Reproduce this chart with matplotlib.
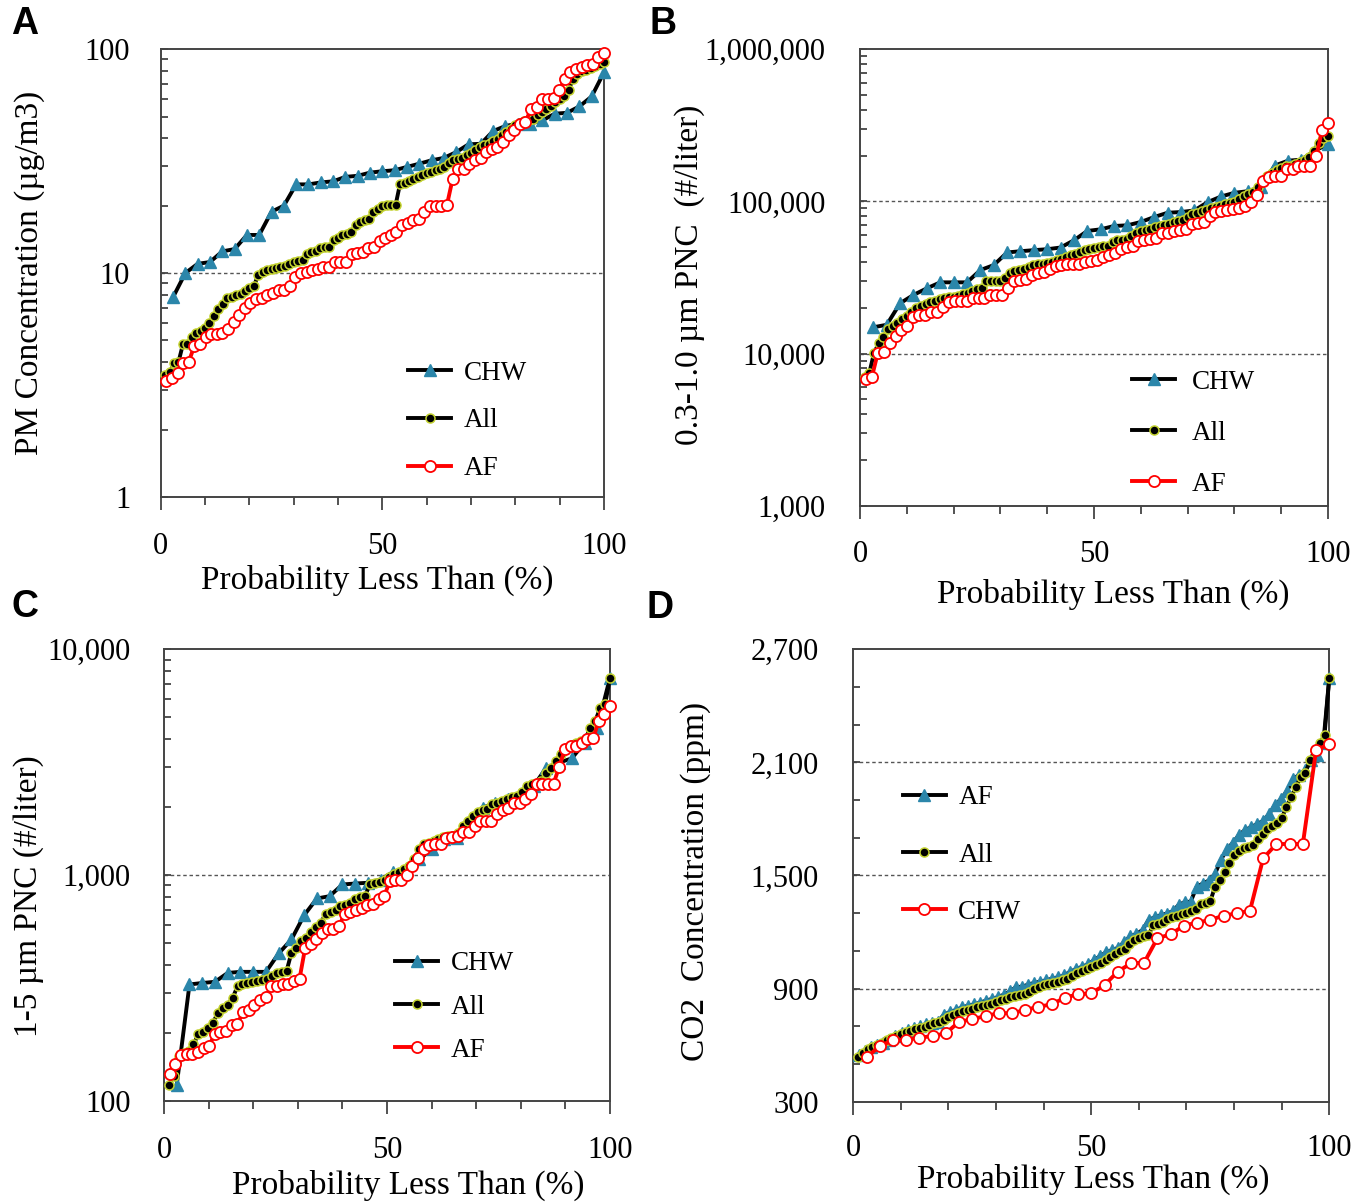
import numpy as np
import matplotlib
matplotlib.use("Agg")
import matplotlib.pyplot as plt
from matplotlib.ticker import FixedLocator, MultipleLocator, FuncFormatter, NullFormatter

plt.rcParams['font.family'] = ['Liberation Serif', 'DejaVu Serif']

# ---- panel A : PM concentration (ug/m3)
pm_chw = [7.8, 10.0, 11.0, 11.2, 12.5, 12.8, 14.8, 14.8, 18.8, 20.0, 24.9, 24.9, 25.4, 25.7, 26.9, 27.2,
          28.1, 28.5, 28.8, 29.8, 30.8, 31.9, 32.7, 34.7, 37.6, 37.8, 43.1, 45.4, 46.5, 46.5, 48.1, 51.5,
          52.0, 55.5, 61.5, 78.9]
pm_all = [3.5, 3.6, 3.95, 4.0, 4.8, 4.8, 5.2, 5.4, 5.5, 5.7,
          6.0, 6.4, 6.9, 7.3, 7.7, 7.8, 8.0, 8.1, 8.35, 8.55,
          8.75, 9.8, 10.1, 10.3, 10.4, 10.55, 10.7, 10.8, 11.0, 11.2,
          11.3, 11.4, 12.2, 12.4, 12.6, 12.9, 13.1, 13.1, 14.0, 14.4,
          14.8, 15.0, 15.3, 16.4, 16.9, 17.3, 17.5, 18.8, 19.4, 20.0,
          20.1, 20.1, 20.2, 25.1, 25.3, 25.8, 26.2, 26.9, 27.5, 28.0,
          28.4, 28.8, 29.2, 29.8, 31.0, 31.9, 32.2, 32.8, 33.6, 34.4,
          35.6, 36.5, 37.2, 37.8, 38.8, 39.8, 41.3, 42.8, 44.2, 45.7,
          46.8, 47.6, 48.1, 49.0, 50.6, 52.4, 54.2, 56.0, 58.0, 60.0,
          61.6, 65.4, 73.8, 77.5, 79.6, 81.0, 82.5, 84.0, 86.0, 88.0]
pm_af = [3.28, 3.39, 3.57, 3.96, 4.02, 4.73, 4.83, 5.2, 5.35, 5.35,
         5.42, 5.61, 6.07, 6.5, 6.96, 7.32, 7.63, 7.71, 7.98, 8.12,
         8.4, 8.4, 8.78, 9.57, 9.97, 10.1, 10.3, 10.4, 10.6, 10.7,
         11.2, 11.2, 11.2, 12.2, 12.3, 12.45, 13.0, 13.1, 13.9, 14.3,
         14.8, 15.2, 16.4, 16.8, 17.2, 17.5, 18.8, 19.9, 20.0, 20.0,
         20.1, 26.2, 29.3, 29.3, 30.8, 31.9, 32.8, 34.7, 35.9, 36.5,
         38.5, 41.2, 43.4, 46.5, 47.3, 54.2, 55.1, 60.0, 60.0, 60.7,
         65.4, 73.8, 78.9, 81.7, 83.1, 85.4, 86.0, 92.1, 96.0]

# ---- panel B : 0.3-1.0 um PNC (#/liter)
pnc03_chw = [14900, 15470, 21430, 24300, 26860, 29400, 29400, 29400, 35400, 38170,
             46200, 47100, 47850, 48550, 49800, 55600, 64000, 65600, 69000, 69700,
             73300, 79000, 84300, 85200, 87300, 99000, 107800, 114000, 116800, 124100,
             171900, 185300, 188200, 215400, 238300]
pnc03_all = [7000, 7500, 10100, 11700, 12800, 14500, 15300, 15900, 17000, 17800,
             18900, 19800, 20400, 21100, 21900, 22300, 22900, 23200, 23400, 23700,
             24000, 24500, 25000, 25800, 26500, 26900, 29900, 29900, 30000, 30150,
             31400, 33700, 34900, 35400, 36100, 37100, 38200, 38700, 39100, 39500,
             39900, 41000, 42000, 43000, 44200, 45200, 46400, 47800, 48600, 49300,
             50100, 50600, 50800, 54000, 55900, 56200, 56700, 59100, 61700, 63900,
             65000, 66000, 67900, 69000, 70400, 71400, 73000, 74300, 75100, 79000,
             82600, 84300, 86000, 88500, 90500, 91800, 93600, 95700, 97000, 99000,
             104000, 108500, 112200, 115700, 125000, 137000, 146000, 155000, 161000, 166000,
             170000, 172000, 175000, 181000, 187000, 195000, 215000, 243000, 263000, 270000]
pnc03_af = [6830, 7000, 10100, 10200, 11740, 13110, 14350, 15240, 17360, 17900,
            17980, 18630, 18910, 20390, 21980, 22320, 22320, 22320, 23110, 23340,
            23340, 24300, 24300, 24300, 26860, 30150, 30460, 30900, 32850, 34000,
            34200, 35760, 37790, 38170, 38550, 38730, 38730, 39720, 40500, 41160,
            43260, 44800, 45500, 48550, 50300, 50800, 54800, 55600, 56430, 57880,
            62400, 62400, 64000, 64600, 65600, 71450, 72540, 73300, 80200, 85200,
            86470, 87300, 89600, 90400, 92750, 99000, 111100, 137100, 145700, 146400,
            147900, 163500, 163500, 171900, 171900, 171900, 197800, 293900, 330000]

# ---- panel C : 1-5 um PNC (#/liter)
pnc15_chw = [118, 328, 333, 337, 369, 373, 373, 373, 450, 519,
             665, 788, 807, 909, 918, 925, 956, 1034, 1059, 1173,
             1299, 1439, 1464, 1677, 1988, 2092, 2164, 2278, 2480, 2989,
             3147, 3289, 3858, 4498, 7487]
pnc15_all = [118, 129, 158, 163, 166, 178, 197, 202, 211, 222,
             246, 258, 267, 286, 322, 328, 333, 337, 339, 345,
             347, 357, 369, 374, 376, 453, 476, 510, 528, 561,
             590, 615, 676, 686, 704, 729, 741, 754, 780, 799,
             807, 909, 925, 934, 950, 983, 1007, 1031, 1059, 1096,
             1173, 1299, 1367, 1391, 1415, 1439, 1474, 1489, 1489, 1540,
             1649, 1735, 1826, 1902, 1941, 1968, 2057, 2092, 2128, 2180,
             2217, 2239, 2333, 2480, 2523, 2566, 2610, 2842, 2989, 3200,
             3425, 3606, 3731, 3834, 3926, 4020, 4498, 4813, 5514, 5705, 7487]
pnc15_af = [132, 146, 160, 162, 162, 165, 172, 176, 198, 202,
            204, 218, 220, 247, 254, 266, 281, 288, 322, 324,
            328, 330, 339, 347, 476, 498, 522, 555, 578, 578,
            594, 676, 686, 704, 717, 737, 747, 780, 807, 941,
            947, 950, 1000, 1096, 1193, 1299, 1358, 1377, 1377, 1464,
            1474, 1489, 1550, 1556, 1649, 1735, 1735, 1735, 1857, 1941,
            1988, 2092, 2092, 2180, 2278, 2523, 2540, 2540, 2540, 3020,
            3606, 3731, 3731, 3834, 4020, 4034, 4813, 5152, 5610]

# ---- panel D : CO2 (ppm)
co2_af = [548, 571, 592, 602, 613, 627, 650, 663, 680, 693,
          702, 710, 716, 724, 760, 776, 786, 800, 809, 816,
          825, 836, 845, 855, 868, 885, 908, 910, 921, 930,
          937, 944, 953, 960, 970, 990, 1004, 1016, 1030, 1052,
          1073, 1094, 1105, 1117, 1149, 1179, 1190, 1211, 1264, 1278,
          1289, 1298, 1310, 1344, 1359, 1361, 1441, 1457, 1473, 1506,
          1582, 1639, 1674, 1715, 1741, 1756, 1773, 1789, 1826, 1874,
          1906, 1950, 2010, 2035, 2060, 2113, 2139, 2201, 2550]
co2_all = [539, 557, 578, 592, 602, 613, 627, 638, 650, 661,
           668, 677, 684, 689, 698, 707, 716, 724, 735, 748,
           760, 769, 779, 788, 793, 800, 806, 811, 818, 827,
           838, 847, 854, 861, 864, 871, 882, 896, 908, 917,
           923, 928, 937, 944, 953, 967, 983, 993, 1004, 1013,
           1023, 1038, 1050, 1066, 1083, 1098, 1112, 1137, 1160, 1168,
           1177, 1183, 1236, 1243, 1255, 1267, 1278, 1285, 1296, 1303,
           1312, 1322, 1349, 1356, 1363, 1441, 1476, 1517, 1568, 1609,
           1632, 1644, 1653, 1662, 1694, 1720, 1745, 1763, 1780, 1803,
           1865, 1915, 1971, 2021, 2046, 2113, 2166, 2201, 2245, 2550]
co2_chw = [535, 595, 627, 628, 640, 648, 663, 724, 737, 755,
           769, 770, 786, 804, 816, 852, 870, 875, 919, 990,
           1034, 1038, 1167, 1188, 1234, 1250, 1264, 1287, 1299, 1313,
           1591, 1667, 1667, 1667, 2166, 2196]

tri_color = '#2b86aa'
dot_edge = '#c3d22f'
spine_color = '#444444'


def pct(vals):
    # probability less than: rank / n
    n = len(vals)
    return np.arange(1, n + 1) / n * 100


def draw_tri(ax, vals, label):
    ax.plot(pct(vals), vals, color='black', lw=2.8, marker='^', ms=9,
            mfc=tri_color, mec=tri_color, label=label, clip_on=False, zorder=3)


def draw_dot(ax, vals, label):
    ax.plot(pct(vals), vals, color='black', lw=2.8, marker='o', ms=6.5,
            mfc='black', mec=dot_edge, mew=1.1, label=label, clip_on=False, zorder=4)


def draw_circ(ax, vals, label):
    ax.plot(pct(vals), vals, color='red', lw=2.8, marker='o', ms=8,
            mfc='white', mec='red', mew=1.3, label=label, clip_on=False, zorder=5)


def style_axes(ax, ypad, xpad=16):
    ax.set_xlim(0, 100)
    ax.xaxis.set_major_locator(FixedLocator([0, 50, 100]))
    ax.xaxis.set_minor_locator(MultipleLocator(10))
    ax.tick_params(axis='x', which='major', direction='out', length=9, width=1.3,
                   color=spine_color, labelsize=22, pad=xpad)
    ax.tick_params(axis='x', which='minor', direction='out', length=6, width=1.3,
                   color=spine_color)
    ax.tick_params(axis='y', which='both', direction='in', length=5, width=1.3,
                   color=spine_color, labelsize=22, pad=ypad)
    for s in ax.spines.values():
        s.set_color(spine_color)
        s.set_linewidth(1.4)


def grid_lines(ax, levels):
    for lv in levels:
        ax.axhline(lv, color='#555555', lw=1.0, ls=(0, (2.5, 2)), zorder=1)


def add_legend(ax, x, y, spacing, textpad=0.45):
    ax.legend(loc='center left', bbox_to_anchor=(x, y), frameon=False, fontsize=19.5,
              borderpad=0, borderaxespad=0, handlelength=1.6, handletextpad=textpad,
              labelspacing=spacing)


fmt_comma = FuncFormatter(lambda v, p: f"{v:,.0f}")
xlab = 'Probability Less Than (%)'

fig = plt.figure(figsize=(13.69, 12.03), dpi=100)

axA = fig.add_axes([0.1174, 0.5869, 0.3238, 0.3722])
axB = fig.add_axes([0.6282, 0.5796, 0.3419, 0.3794])
axC = fig.add_axes([0.1198, 0.0848, 0.3258, 0.3755])
axD = fig.add_axes([0.6233, 0.0842, 0.3477, 0.3761])

# A
draw_tri(axA, pm_chw, 'CHW')
draw_dot(axA, pm_all, 'All')
draw_circ(axA, pm_af, 'AF')
axA.set_yscale('log')
axA.set_ylim(1, 100)
grid_lines(axA, [10])
style_axes(axA, 22)
axA.yaxis.set_major_formatter(fmt_comma)
axA.yaxis.set_minor_formatter(NullFormatter())
axA.set_ylabel('PM Concentration (µg/m3)', fontsize=24)
axA.yaxis.set_label_coords(-0.262, 0.5)
axA.set_xlabel(xlab, fontsize=24)
axA.xaxis.set_label_coords(0.488, -0.152)
add_legend(axA, 0.558, 0.170, 0.84)

# B
draw_tri(axB, pnc03_chw, 'CHW')
draw_dot(axB, pnc03_all, 'All')
draw_circ(axB, pnc03_af, 'AF')
axB.set_yscale('log')
axB.set_ylim(1000, 1000000)
grid_lines(axB, [10000, 100000])
style_axes(axB, 25)
axB.yaxis.set_major_formatter(fmt_comma)
axB.yaxis.set_minor_formatter(NullFormatter())
axB.set_ylabel('0.3-1.0 µm PNC  (#/liter)', fontsize=24)
axB.yaxis.set_label_coords(-0.331, 0.505)
axB.set_xlabel(xlab, fontsize=24)
axB.xaxis.set_label_coords(0.541, -0.160)
add_legend(axB, 0.581, 0.159, 0.96, textpad=0.6)

# C
draw_tri(axC, pnc15_chw, 'CHW')
draw_dot(axC, pnc15_all, 'All')
draw_circ(axC, pnc15_af, 'AF')
axC.set_yscale('log')
axC.set_ylim(100, 10000)
grid_lines(axC, [1000])
style_axes(axC, 24)
axC.yaxis.set_major_formatter(fmt_comma)
axC.yaxis.set_minor_formatter(NullFormatter())
axC.set_ylabel('1-5 µm PNC (#/liter)', fontsize=24)
axC.yaxis.set_label_coords(-0.268, 0.454)
axC.set_xlabel(xlab, fontsize=24)
axC.xaxis.set_label_coords(0.547, -0.152)
add_legend(axC, 0.518, 0.208, 0.68)

# D
draw_tri(axD, co2_af, 'AF')
draw_dot(axD, co2_all, 'All')
draw_circ(axD, co2_chw, 'CHW')
axD.set_ylim(300, 2700)
axD.yaxis.set_major_locator(FixedLocator([300, 900, 1500, 2100, 2700]))
axD.yaxis.set_minor_locator(FixedLocator(np.arange(300, 2701, 200)))
grid_lines(axD, [900, 1500, 2100])
style_axes(axD, 25, xpad=14)
axD.yaxis.set_major_formatter(fmt_comma)
axD.set_ylabel('CO2  Concentration (ppm)', fontsize=24)
axD.yaxis.set_label_coords(-0.299, 0.486)
axD.set_xlabel(xlab, fontsize=24)
axD.xaxis.set_label_coords(0.504, -0.138)
add_legend(axD, 0.104, 0.545, 1.19)

# panel letters
for letter, x, y in [('A', 25, 24), ('B', 663, 24), ('C', 25, 607), ('D', 660, 608)]:
    fig.text(x / 1369, 1 - y / 1203, letter, fontsize=27, fontweight='bold',
             family=['Liberation Sans', 'DejaVu Sans'], ha='center', va='center')

fig.savefig('out.png', dpi=100)
